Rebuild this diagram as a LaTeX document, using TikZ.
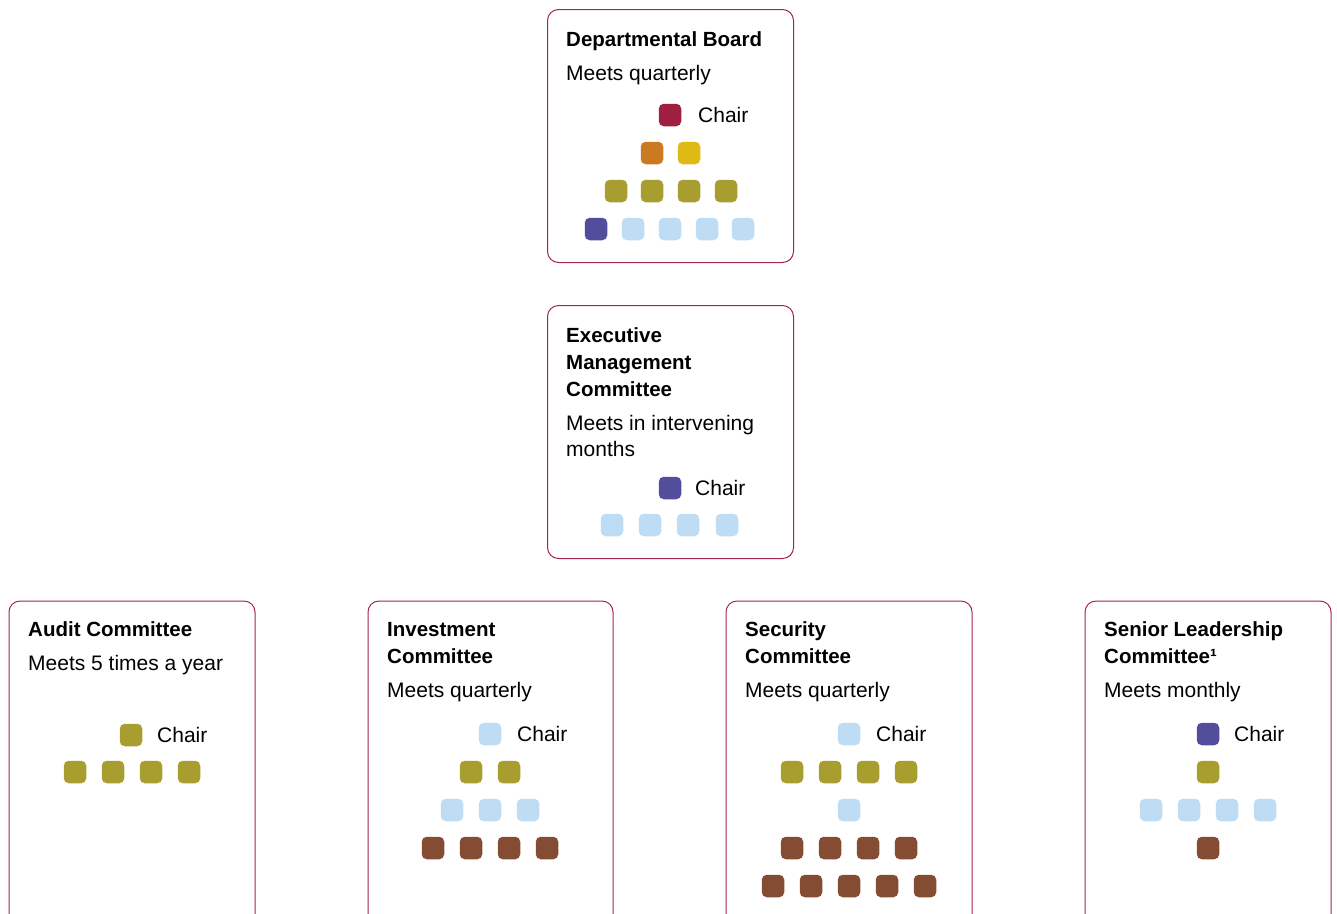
\documentclass[tikz,border=0pt]{standalone}
\usepackage{fontspec}
\setmainfont{Liberation Sans}
\definecolor{frame}{HTML}{A3254A}
\definecolor{crim}{HTML}{9E1F3F}
\definecolor{orng}{HTML}{CC7A22}
\definecolor{yell}{HTML}{E0BA14}
\definecolor{oliv}{HTML}{A89E30}
\definecolor{purp}{HTML}{524E9C}
\definecolor{lblu}{HTML}{BFDCF5}
\definecolor{brwn}{HTML}{834C33}
\begin{document}
\begin{tikzpicture}[x=1pt,y=-1pt,
  boxframe/.style={draw=frame,line width=1pt,rounded corners=11pt,fill=white},
  seat/.style={rectangle,rounded corners=5pt,minimum size=22.5pt,inner sep=0pt,fill=#1},
  ttl/.style={anchor=base west,inner sep=0pt,font=\fontsize{20.5}{27}\selectfont\bfseries},
  sub/.style={anchor=base west,inner sep=0pt,font=\fontsize{21}{27}\selectfont},
  chairlbl/.style={anchor=base west,inner sep=0pt,font=\fontsize{21}{27}\selectfont}]
\useasboundingbox (0,0) rectangle (1337,913);
% top boxes
\node[boxframe,minimum width=246pt,minimum height=253pt,anchor=north west] (db) at (547,9) {};
\node[boxframe,minimum width=246pt,minimum height=253pt,anchor=north west] (emc) at (547,305) {};
% bottom boxes (open at bottom)
\draw[draw=frame,line width=1pt,rounded corners=11pt] (9,925) -- (9,601) -- (255,601) -- (255,925);
\draw[draw=frame,line width=1pt,rounded corners=11pt] (368,925) -- (368,601) -- (613,601) -- (613,925);
\draw[draw=frame,line width=1pt,rounded corners=11pt] (726,925) -- (726,601) -- (972,601) -- (972,925);
\draw[draw=frame,line width=1pt,rounded corners=11pt] (1085,925) -- (1085,601) -- (1331,601) -- (1331,925);

% Departmental Board
\node[ttl] (dbt) at (566,46) {Departmental Board};
\node[sub] (dbs) at (566,80) {Meets quarterly};
\node[seat=crim] (db0) at (670,115) {};
\node[chairlbl] (dbc) at (698,122) {Chair};
\node[seat=orng] (db1) at (652,153) {};
\node[seat=yell] (db2) at (689,153) {};
\foreach \x [count=\i] in {616,652,689,726} \node[seat=oliv] (db3\i) at (\x,191) {};
\node[seat=purp] (db41) at (596,229) {};
\foreach \x [count=\i] in {633,670,707,743} \node[seat=lblu] (db4\i x) at (\x,229) {};

% Executive Management Committee
\node[ttl] (emt1) at (566,342) {Executive};
\node[ttl] (emt2) at (566,369) {Management};
\node[ttl] (emt3) at (566,396) {Committee};
\node[sub] (ems1) at (566,430) {Meets in intervening};
\node[sub] (ems2) at (566,456) {months};
\node[seat=purp] (em0) at (670,488) {};
\node[chairlbl] (emc) at (695,495) {Chair};
\foreach \x [count=\i] in {612,650,688,727} \node[seat=lblu] (em1\i) at (\x,525) {};

% Audit Committee
\node[ttl] (act) at (28,636) {Audit Committee};
\node[sub] (acs) at (28,670) {Meets 5 times a year};
\node[seat=oliv] (ac0) at (131,735) {};
\node[chairlbl] (acc) at (157,742) {Chair};
\foreach \x [count=\i] in {75,113,151,189} \node[seat=oliv] (ac1\i) at (\x,772) {};

% Investment Committee
\node[ttl] (ict1) at (387,636) {Investment};
\node[ttl] (ict2) at (387,663) {Committee};
\node[sub] (ics) at (387,697) {Meets quarterly};
\node[seat=lblu] (ic0) at (490,734) {};
\node[chairlbl] (icc) at (517,741) {Chair};
\foreach \x [count=\i] in {471,509} \node[seat=oliv] (ic1\i) at (\x,772) {};
\foreach \x [count=\i] in {452,490,528} \node[seat=lblu] (ic2\i) at (\x,810) {};
\foreach \x [count=\i] in {433,471,509,547} \node[seat=brwn] (ic3\i) at (\x,848) {};

% Security Committee
\node[ttl] (sct1) at (745,636) {Security};
\node[ttl] (sct2) at (745,663) {Committee};
\node[sub] (scs) at (745,697) {Meets quarterly};
\node[seat=lblu] (sc0) at (849,734) {};
\node[chairlbl] (scc) at (876,741) {Chair};
\foreach \x [count=\i] in {792,830,868,906} \node[seat=oliv] (sc1\i) at (\x,772) {};
\node[seat=lblu] (sc21) at (849,810) {};
\foreach \x [count=\i] in {792,830,868,906} \node[seat=brwn] (sc3\i) at (\x,848) {};
\foreach \x [count=\i] in {773,811,849,887,925} \node[seat=brwn] (sc4\i) at (\x,886) {};

% Senior Leadership Committee
\node[ttl] (slt1) at (1104,636) {Senior Leadership};
\node[ttl] (slt2) at (1104,663) {Committee¹};
\node[sub] (sls) at (1104,697) {Meets monthly};
\node[seat=purp] (sl0) at (1208,734) {};
\node[chairlbl] (slc) at (1234,741) {Chair};
\node[seat=oliv] (sl11) at (1208,772) {};
\foreach \x [count=\i] in {1151,1189,1227,1265} \node[seat=lblu] (sl2\i) at (\x,810) {};
\node[seat=brwn] (sl31) at (1208,848) {};
\end{tikzpicture}
\end{document}
